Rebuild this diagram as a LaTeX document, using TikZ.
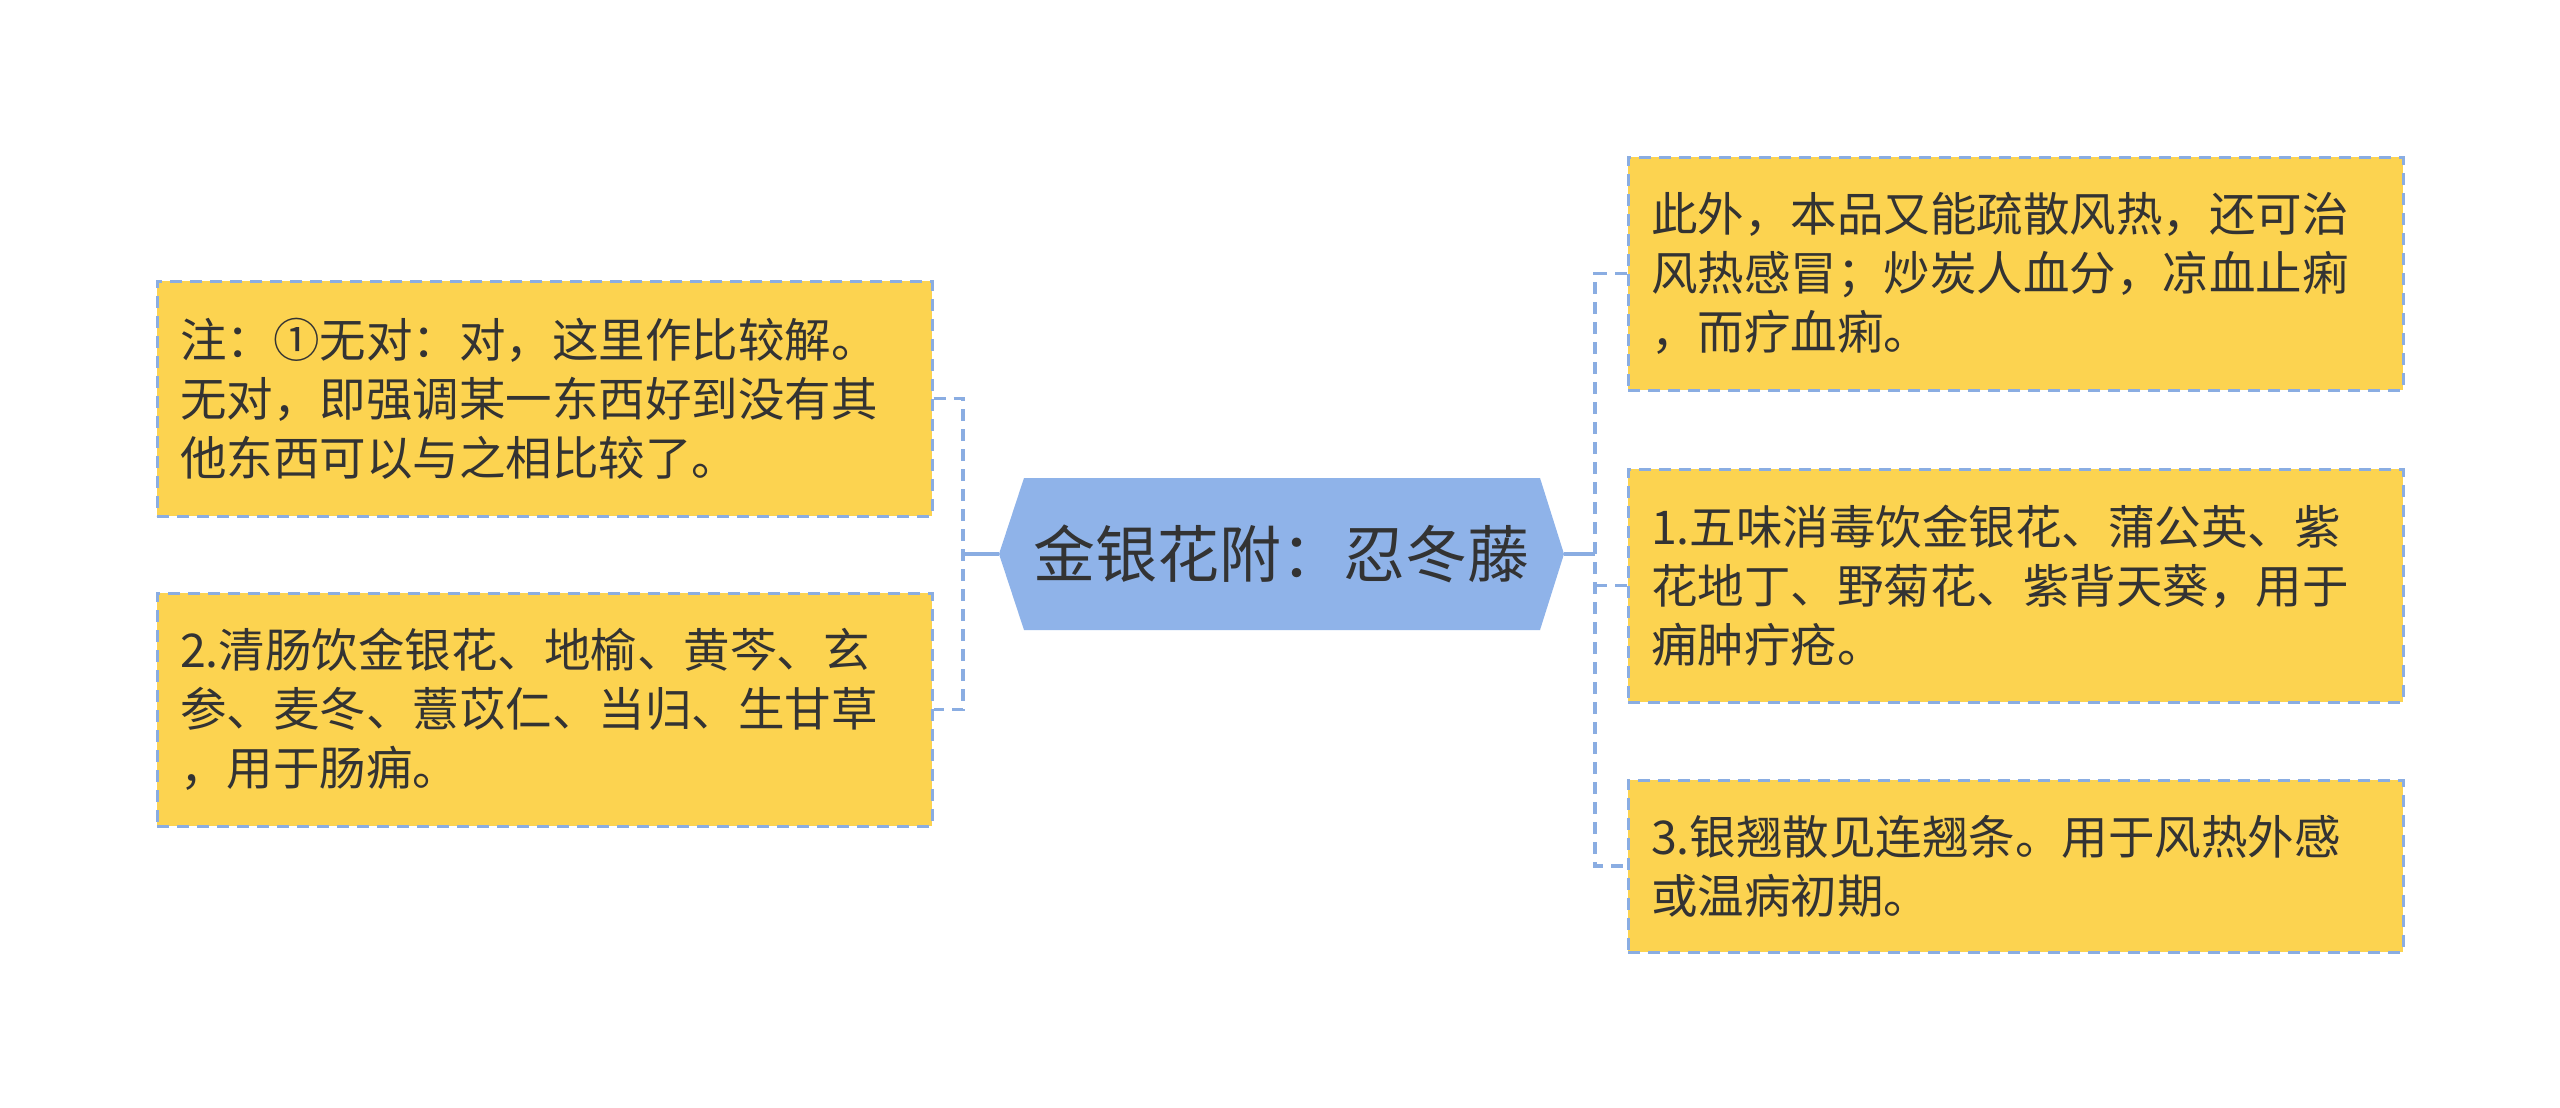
\documentclass[tikz,border=0pt]{standalone}
\usepackage{fontspec}
\setmainfont{Noto Sans CJK SC}
\definecolor{leafyellow}{HTML}{FCD350}
\definecolor{hexblue}{HTML}{8FB3E9}
\definecolor{lineblue}{HTML}{8AADE2}
\definecolor{txt}{HTML}{333333}
\newcommand{\leaffont}{\fontsize{46.5pt}{59pt}\selectfont}
\newcommand{\rootfont}{\fontsize{62pt}{70pt}\selectfont}
\tikzset{
  leaf/.style={draw=lineblue, dash pattern=on 12pt off 8pt, line width=3pt,
    fill=leafyellow, text=txt, font=\leaffont, align=left, text width=729pt,
    inner xsep=23pt, inner ysep=0pt, minimum height=#1},
  conn/.style={draw=lineblue, line width=3.5pt, dash pattern=on 12pt off 8pt},
  solidconn/.style={draw=lineblue, line width=3.5pt},
  rootnode/.style={text=txt, font=\rootfont, minimum width=565pt, minimum height=152pt, inner sep=0pt},
}
\begin{document}
\begin{tikzpicture}[x=1pt,y=-1pt]
\useasboundingbox[fill=white] (0,0) rectangle (2560,1108);
% root hexagon
\fill[hexblue] (999,554) -- (1024,478) -- (1540,478) -- (1564,554) -- (1540,630) -- (1024,630) -- cycle;
\node[rootnode] (c) at (1281.5,554) {金银花附：忍冬藤};
% left leaves
\node[leaf=235pt] (L1) at (544.5,398.5) {注：①无对：对，这里作比较解。\\无对，即强调某一东西好到没有其\\他东西可以与之相比较了。};
\node[leaf=233pt] (L2) at (544.5,709.5) {2.清肠饮金银花、地榆、黄芩、玄\\参、麦冬、薏苡仁、当归、生甘草\\，用于肠痈。};
% right leaves
\node[leaf=233pt] (R1) at (2015.5,273.5) {此外，本品又能疏散风热，还可治\\风热感冒；炒炭人血分，凉血止痢\\，而疗血痢。};
\node[leaf=233pt] (R2) at (2015.5,585.5) {1.五味消毒饮金银花、蒲公英、紫\\花地丁、野菊花、紫背天葵，用于\\痈肿疔疮。};
\node[leaf=172pt] (R3) at (2015.5,866) {3.银翘散见连翘条。用于风热外感\\或温病初期。};
% junctions
\coordinate (lj) at (963,554);
\coordinate (rj) at (1595,554);
% connectors
\draw[solidconn] (c.west) -- (lj);
\draw[conn] (L1.east) -| (lj) |- (L2.east);
\draw[solidconn] (c.east) -- (rj);
\draw[conn] (R1.west) -| (rj) |- (R3.west);
\draw[conn] (rj |- R2.west) -- (R2.west);
\end{tikzpicture}
\end{document}
